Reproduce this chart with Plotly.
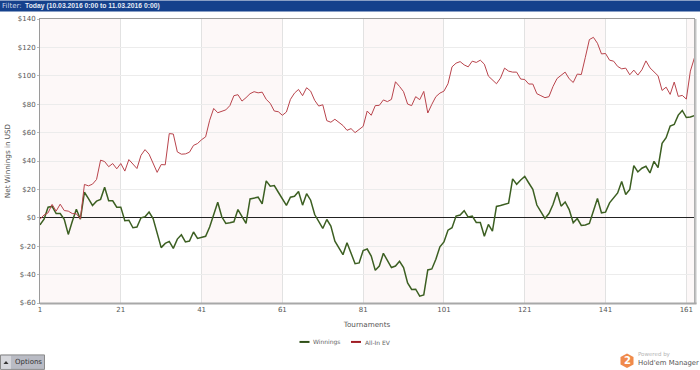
import plotly.graph_objects as go

tournaments = list(range(1, 164))
winnings = [-5,-1,7.5,8,3,3,-1,-11.7,-2.5,6,-1,18,13.5,8.7,11.7,13,21.5,12,12,7.5,7.5,-2,-1.7,-7,-6.5,0,0.7,4,-0.5,-10.5,
-21,-18,-16.6,-21.5,-15,-12,-17,-16.4,-10,-14.5,-13.6,-13,-6.5,2.3,11,0.7,-4,-3.5,-2.8,5.8,1.2,-4,13.3,13.8,14.5,9.8,26,22.2,22.7,18,
13.5,8.7,14.5,15.2,18.5,8.9,17,12.4,2.3,-2.3,-7.5,-1.2,-5.8,-16.4,-21,-26,-17.5,-25,-32.3,-31.8,-23,-22,-27,-37,-34,-25,-30,-35,-34,-30.6,
-35,-45.8,-50.5,-50.3,-55.2,-54.3,-36.7,-36,-29.2,-20.4,-17,-8.7,-7,1.2,2,5,0.5,1.2,-3.3,-3.3,-13,-4.7,-9.4,8,8.7,9.6,10.3,27.4,23.6,26.6,
29.2,24.5,20,9,4,-0.5,3,9.4,18,8.2,11.2,5.8,-3.5,-0.5,-5.4,-5,-4,4.7,13.6,3.5,4,10.5,14,17.5,25.5,16.4,20,36.7,32.3,34.9,36.3,31.6,39.8,35.3,
52.4,56.4,64.6,65.7,72.3,75.6,70.6,71,72]
all_in_ev = [-1,2,3.5,9.4,4.7,9.6,5.1,4.7,3,2.8,-0.7,23.5,22.5,23.7,27,40.6,39.6,36,38.2,34.5,38.2,32.9,41,38.2,34.7,44,48,44.8,39,32,
37.5,37.3,59.3,59,46.4,44.8,45,46.2,51,52.3,55,57,68.7,77,74,75.2,76,79,86,86.7,82.2,84.6,87.4,88.8,88,88.5,83.4,80.6,75.2,74.7,
72.2,74.5,83.4,87.8,90.4,86,91.6,89.2,82.7,78.7,79.6,68.4,67.3,69.4,67,65,61.6,62.8,60,62,64.4,75.2,72.2,79,79.2,83,81.8,83.4,95.8,92.5,
88.8,80.1,79,85.3,83.2,89,73.8,79.9,85.3,87.8,89.2,94.4,106.3,108.9,110,107.7,106.3,110.3,109.4,111,108.2,99.8,97.4,94.4,98.4,105.4,103.3,102.6,102.6,97.7,
97.4,94.2,94.2,87.4,86,84.6,85.3,92.5,98.1,100.5,102.6,97.9,95.3,101.2,100.9,113,125.5,127.1,122.9,115.4,115.7,111,110.3,106.6,104.9,105.4,100.7,104,100.5,104.2,110.5,105.6,103,100,
89.7,92,86.9,95.6,85.5,86.2,83.6,103.3,112.6]
x_ticks = [1, 21, 41, 61, 81, 101, 121, 141, 161]
y_ticks = [-60, -40, -20, 0, 20, 40, 60, 80, 100, 120, 140]
y_labels = ["$-60", "$-40", "$-20", "$0", "$20", "$40", "$60", "$80", "$100", "$120", "$140"]
bands = [(1, 21), (41, 61), (81, 101), (121, 141), (161, 163)]

FONT = "DejaVu Sans"
L, T, PW, PH = 40, 18.5, 654, 284.5

def px(x):
    return (x - L) / PW

def py(y):
    return (T + PH - y) / PH

fig = go.Figure()
fig.add_trace(go.Scatter(x=tournaments, y=winnings, name="Winnings", mode="lines",
                         line=dict(color="#3c5f22", width=1.5)))
fig.add_trace(go.Scatter(x=tournaments, y=all_in_ev, name="All-In EV", mode="lines",
                         line=dict(color="#b9444c", width=1)))

def rect(x0, x1, y0, y1, fill, line=None):
    return dict(type="rect", xref="paper", yref="paper", x0=px(x0), x1=px(x1), y0=py(y1), y1=py(y0),
                fillcolor=fill, line=line or dict(width=0))

shapes = []
for a, b in bands:
    shapes.append(dict(type="rect", xref="x", yref="paper", x0=a, x1=b, y0=0, y1=1,
                       fillcolor="#fdf8f8", line_width=0, layer="below"))
shapes.append(rect(0, 700, 0, 11, "#15418c"))
shapes.append(rect(694.5, 696.5, 18.5, 304, "#c4c4c4"))
shapes.append(rect(40, 696.5, 302.5, 304.5, "#a8a8a8"))
shapes.append(rect(0.5, 44.5, 355, 369.5, "#b9bbc4", dict(color="#8a8a8a", width=1)))
shapes.append(rect(1, 11, 356, 369, "#d6d7dc"))
shapes.append(dict(type="path", xref="paper", yref="paper",
                   path=f"M {px(3.5)} {py(364)} L {px(8.5)} {py(364)} L {px(6)} {py(361)} Z",
                   fillcolor="#333333", line_width=0))
hex_pts = [(627, 353.5), (633.5, 357), (633.5, 364.5), (627, 368), (620.5, 364.5), (620.5, 357)]
shapes.append(dict(type="path", xref="paper", yref="paper",
                   path="M " + " L ".join(f"{px(a)} {py(b)}" for a, b in hex_pts) + " Z",
                   fillcolor="#f08a4b", line_width=0))
shapes.append(dict(type="line", xref="paper", yref="paper", x0=px(299.5), x1=px(309.5), y0=py(342), y1=py(342),
                   line=dict(color="#2f4f17", width=2)))
shapes.append(dict(type="line", xref="paper", yref="paper", x0=px(351), x1=px(361), y0=py(342), y1=py(342),
                   line=dict(color="#a01c24", width=2)))

def note(text, x, y, size, color, anchor="left", family=FONT):
    return dict(text=text, x=px(x), y=py(y), xref="paper", yref="paper", showarrow=False,
                font=dict(size=size, color=color, family=family), xanchor=anchor, yanchor="middle",
                borderpad=0, borderwidth=0)

ann = [
    note("Filter:", 2, 5.5, 7, "#cfd8ea"),
    note("<b>Today (10.03.2016 0:00 to 11.03.2016 0:00)</b>", 25, 5.5, 6.8, "#e6ebf5", family="Liberation Sans"),
    note("Options", 15, 362.5, 7, "#333333"),
    note("<b>2</b>", 627, 360.5, 10, "#ffffff", "center"),
    note("Powered by", 638, 355, 5.5, "#b5b5b5"),
    note("Hold'em Manager", 638, 363, 6.9, "#555555"),
    note("Winnings", 313, 342.5, 6, "#666666"),
    note("All-In EV", 365, 342.5, 6, "#666666"),
]

fig.update_layout(
    width=700, height=370, margin=dict(l=40, r=6, t=18.5, b=67), autosize=False,
    paper_bgcolor="#ffffff", plot_bgcolor="#ffffff", showlegend=False,
    font=dict(family=FONT, size=7, color="#555555"),
    shapes=shapes,
    annotations=ann,
    xaxis=dict(range=[1, 162.9], tickvals=x_ticks, ticktext=[str(t) for t in x_ticks], showgrid=True,
               gridcolor="#e2e2e2", gridwidth=1, zeroline=False, showline=True, linecolor="#9a9a9a",
               linewidth=1, mirror=True, ticks="", title=dict(text="Tournaments", font=dict(size=7.2), standoff=8),
               tickfont=dict(size=7)),
    yaxis=dict(range=[-60, 140], tickvals=y_ticks, ticktext=y_labels, showgrid=True,
               gridcolor="#ececec", gridwidth=1, zeroline=True, zerolinecolor="#222222", zerolinewidth=1.2,
               showline=True, linecolor="#9a9a9a", linewidth=1, mirror=True, ticks="outside", ticklen=2,
               tickcolor="#bbbbbb", title=dict(text="Net Winnings in USD", font=dict(size=7.2), standoff=6),
               tickfont=dict(size=7)),
)
fig.write_html("out.html", config=dict(displayModeBar=False),
               post_script="document.body.style.margin='0';document.body.style.overflow='hidden';")
